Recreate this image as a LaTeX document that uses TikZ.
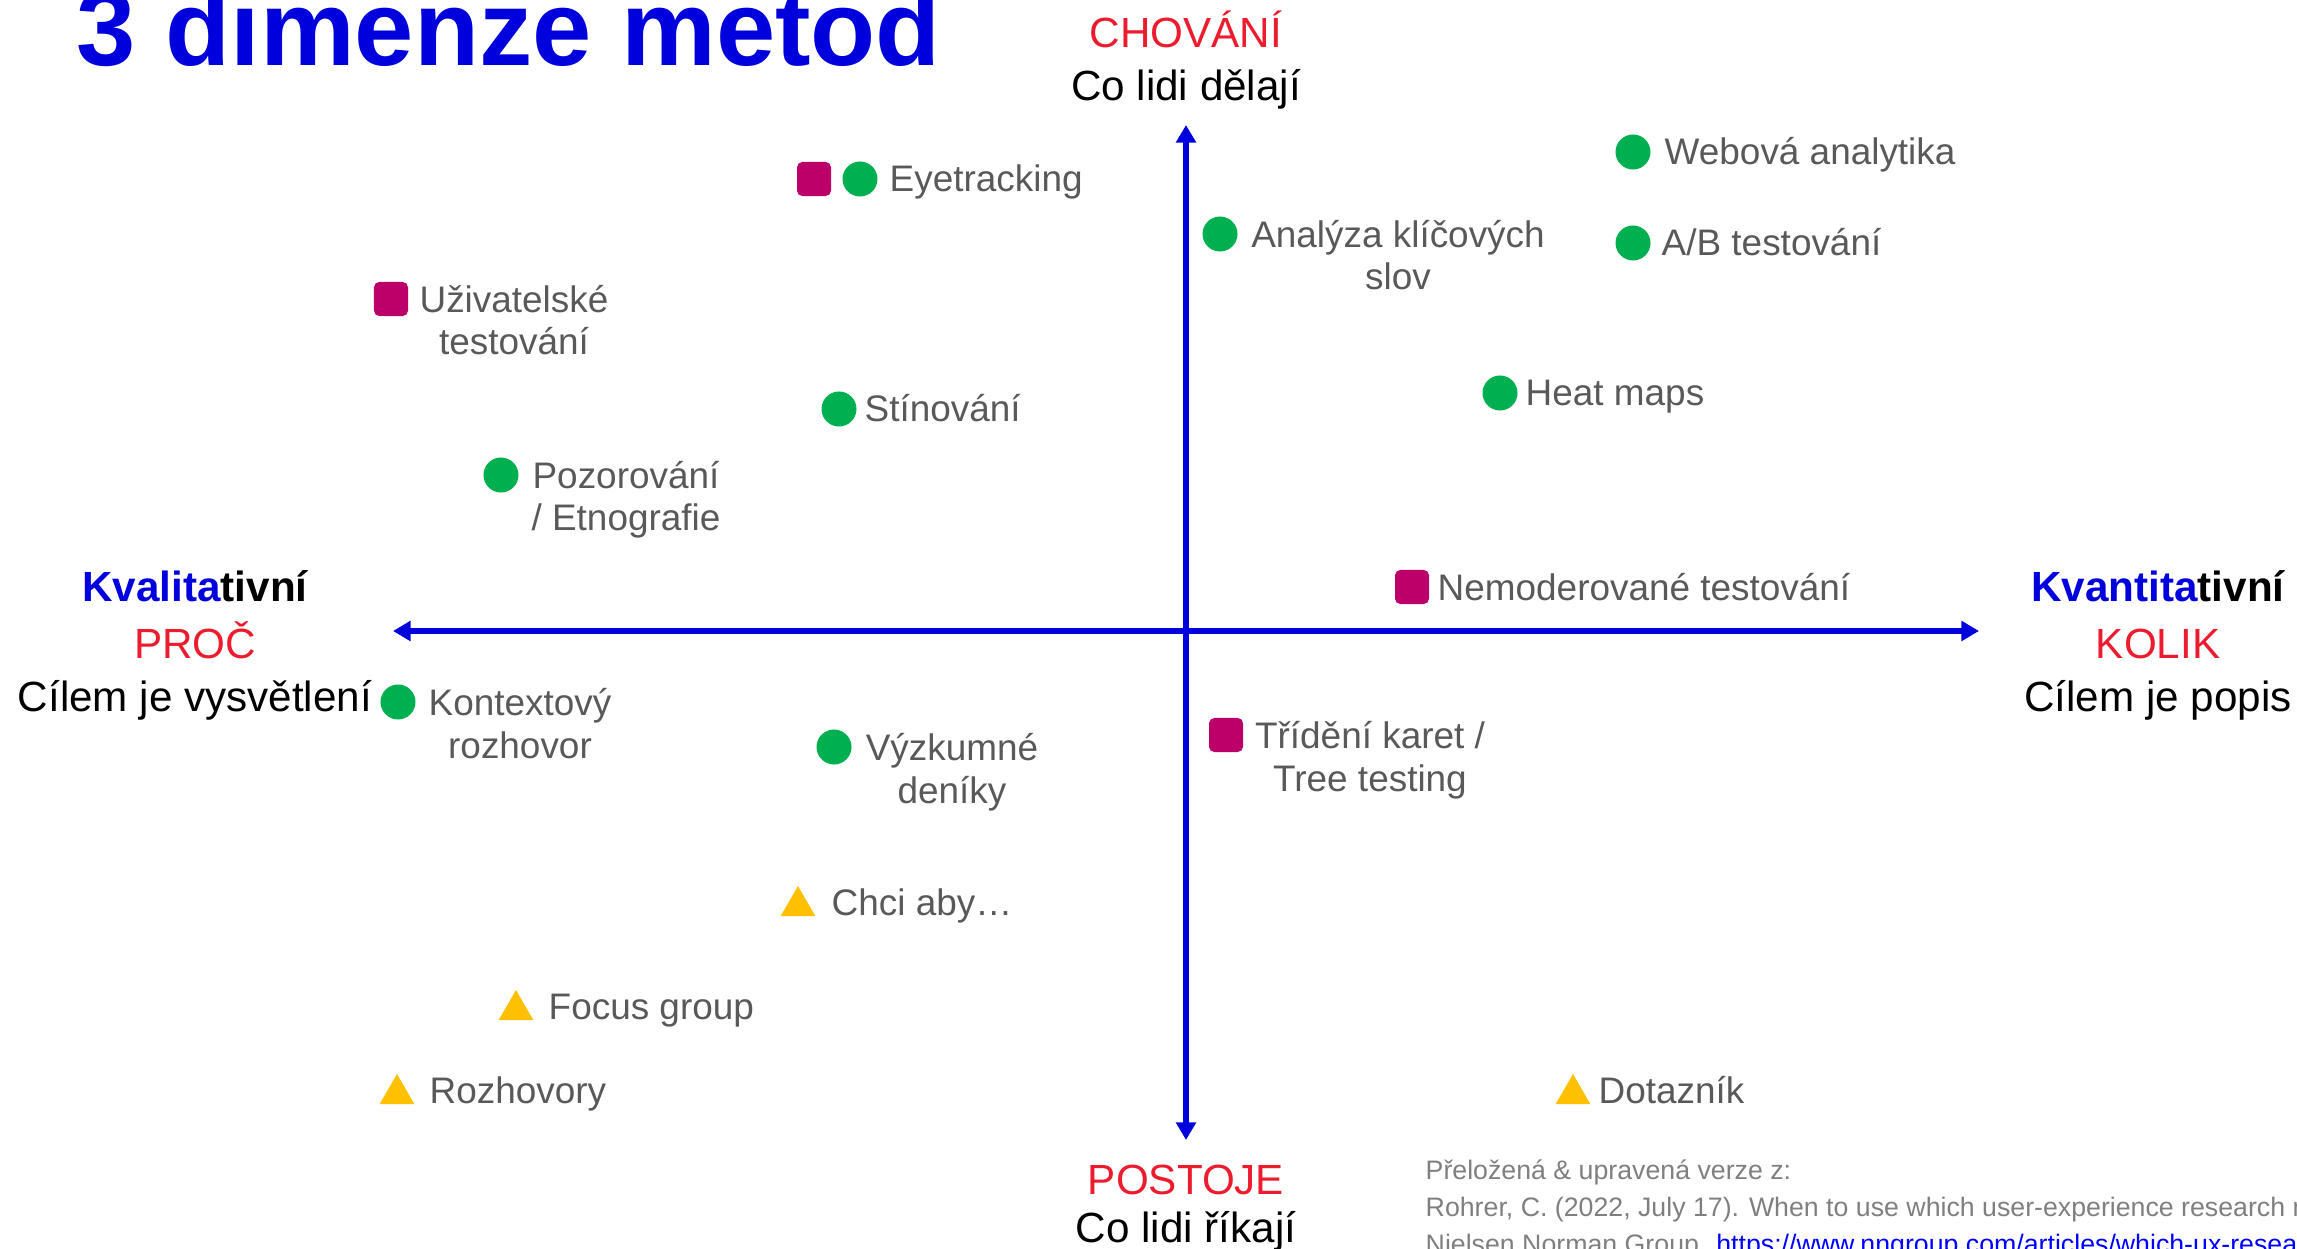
\documentclass[tikz,border=0pt]{standalone}
\usepackage{fontspec}
\setmainfont{Liberation Sans}
\usetikzlibrary{arrows.meta,shapes.geometric}

\definecolor{titleblue}{RGB}{0,0,221}
\definecolor{axisred}{RGB}{237,27,46}
\definecolor{labelgray}{RGB}{89,89,89}
\definecolor{notegray}{RGB}{127,127,127}
\definecolor{dotgreen}{RGB}{0,176,80}
\definecolor{sqmagenta}{RGB}{187,0,106}
\definecolor{triyellow}{RGB}{255,192,0}
\definecolor{linkblue}{RGB}{0,0,255}

\begin{document}
\begin{tikzpicture}[x=0.01cm,y=-0.01cm,
        dimaxis/.style={line width=1.7pt,draw=titleblue,
            {Triangle[length=5pt,width=5.5pt]}-{Triangle[length=5pt,width=5.5pt]}},
        dimtext/.style={inner sep=0pt,anchor=base,font=\fontsize{12}{14}\selectfont},
        dimbold/.style={dimtext,font=\fontsize{12}{14}\selectfont\bfseries},
        method/.style={inner sep=0pt,anchor=base west,text=labelgray,
            font=\fontsize{10.5}{12.2}\selectfont},
        method2/.style={method,anchor=base,align=center},
        greendot/.style={circle,fill=dotgreen,inner sep=0pt,minimum size=0.35cm},
        magsquare/.style={rectangle,rounded corners=1.5pt,fill=sqmagenta,
            inner sep=0pt,minimum size=0.34cm},
        yeltri/.style={regular polygon,regular polygon sides=3,fill=triyellow,
            inner sep=0pt,minimum size=0.4cm},
        note/.style={inner sep=0pt,anchor=base west,align=left,text=notegray,
            font=\fontsize{7.6}{10.5}\selectfont}]

    \clip (0,0) rectangle (2297,1249);

    \node[anchor=base west,inner sep=0pt,text=titleblue,
        font=\fontsize{30.3}{36}\selectfont\bfseries] (title) at (76,66) {3 dimenze metod};

    % axes
    \coordinate (ax-top) at (1186,125);
    \coordinate (ax-bottom) at (1186,1140);
    \coordinate (ax-left) at (393,631);
    \coordinate (ax-right) at (1979,631);
    \draw[dimaxis] (ax-bottom) -- (ax-top);
    \draw[dimaxis] (ax-left) -- (ax-right);

    \node[dimtext,text=axisred] (chov) at (1186,48) {CHOVÁNÍ};
    \node[dimtext] (chov-sub) at (1186,101) {Co lidi dělají};
    \node[dimtext,text=axisred] (post) at (1186,1194) {POSTOJE};
    \node[dimtext] (post-sub) at (1186,1242) {Co lidi říkají};

    \node[dimbold] (kval) at (195,601) {\textcolor{titleblue}{Kvalita}tivní};
    \node[dimtext,text=axisred] (proc) at (195,658) {PROČ};
    \node[dimtext] (proc-sub) at (195,711) {Cílem je vysvětlení};
    \node[dimbold] (kvan) at (2158,601) {\textcolor{titleblue}{Kvantita}tivní};
    \node[dimtext,text=axisred] (kolik) at (2158,658) {KOLIK};
    \node[dimtext] (kolik-sub) at (2158,711) {Cílem je popis};

    % methods
    \node[magsquare] (eye-sq) at (814,179) {};
    \node[greendot] (eye-dot) at (860,179) {};
    \node[method] (eye) at (889,192) {Eyetracking};

    \node[greendot] (web-dot) at (1633,152) {};
    \node[method] (web) at (1664,165) {Webová analytika};

    \node[greendot] (kw-dot) at (1220,234) {};
    \node[method2] (kw) at (1398,290) {Analýza klíčových\\slov};

    \node[greendot] (ab-dot) at (1633,243) {};
    \node[method] (ab) at (1661,256) {A/B testování};

    \node[magsquare] (ut-sq) at (391,299) {};
    \node[method2] (ut) at (514,355) {Uživatelské\\testování};

    \node[greendot] (shadow-dot) at (839,409) {};
    \node[method] (shadow) at (864,422) {Stínování};

    \node[greendot] (heat-dot) at (1500,393) {};
    \node[method] (heat) at (1525,406) {Heat maps};

    \node[greendot] (obs-dot) at (501,475) {};
    \node[method2] (obs) at (626,531) {Pozorování\\/ Etnografie};

    \node[magsquare] (unmod-sq) at (1412,587) {};
    \node[method] (unmod) at (1437,600) {Nemoderované testování};

    \node[greendot] (ctx-dot) at (398,702) {};
    \node[method2] (ctx) at (520,758) {Kontextový\\rozhovor};

    \node[greendot] (diary-dot) at (834,747) {};
    \node[method2] (diary) at (952,803) {Výzkumné\\deníky};

    \node[magsquare] (card-sq) at (1226,735) {};
    \node[method2] (card) at (1370,791) {Třídění karet /\\Tree testing};

    \node[yeltri] (want-tri) at (798,906) {};
    \node[method] (want) at (831,915) {Chci aby…};

    \node[yeltri] (focus-tri) at (516,1010) {};
    \node[method] (focus) at (548,1019) {Focus group};

    \node[yeltri] (intv-tri) at (397,1094) {};
    \node[method] (intv) at (429,1103) {Rozhovory};

    \node[yeltri] (quest-tri) at (1573,1094) {};
    \node[method] (quest) at (1598,1103) {Dotazník};

    % source
    \node[note] (src) at (1425,1253) {Přeložená \& upravená verze z:\\
        Rohrer, C. (2022, July 17). When to use which user-experience research methods.\\
        Nielsen Norman Group. \textcolor{linkblue}{\underline{https://www.nngroup.com/articles/which-ux-research-methods/}}};
\end{tikzpicture}
\end{document}
